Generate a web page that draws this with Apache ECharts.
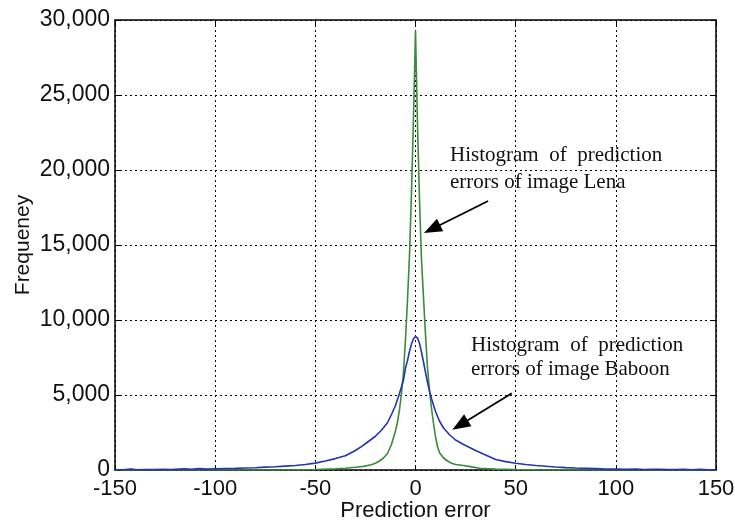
<!DOCTYPE html>
<html>
<head>
<meta charset="utf-8">
<script src="https://cdn.jsdelivr.net/npm/echarts@6/dist/echarts.min.js"></script>
<style>
  html, body { margin: 0; padding: 0; background: #fff; }
  #chart { width: 735px; height: 523px; }
</style>
</head>
<body>
<div id="chart"></div>
<script>
// prediction error histogram of Lena (green)
const lenaX = [-150, -120, -90, -75, -60, -50, -40, -35, -30, -26, -22, -20, -18, -16, -14,
  -12, -10, -9, -8, -7, -6, -5, -4, -3, -2, -1, 0, 1, 2, 3, 4, 5, 6, 7, 8,
  9, 10, 11, 12, 14, 16, 18, 20, 24, 28, 32, 40, 50, 60, 75, 90, 120, 150];
const lenaY = [0, 0, 2, 5, 10, 30, 80, 120, 180, 240, 350, 450, 600, 800, 1100,
  1700, 2600, 3200, 4000, 5100, 6500, 8700, 11300, 14300, 18500, 23500, 29300, 23000, 18000, 14000, 11500, 9000, 6800, 5300, 4100,
  3100, 2200, 1550, 1150, 800, 600, 450, 370, 300, 210, 120, 60, 25, 10, 3, 2, 0, 0];

// prediction error histogram of Baboon (blue)
const baboonX = [-150, -146, -142, -139, -135, -130, -126, -122, -118, -115, -112, -108, -104, -100, -95,
  -90, -85, -80, -75, -70, -65, -60, -55, -50, -45, -40, -35, -30, -27, -24,
  -20, -17, -14, -12, -10, -8, -6, -5, -4, -3, -2, -1, 0, 1, 2,
  3, 4, 5, 6, 7, 8, 10, 12, 14, 17, 20, 24, 27, 30, 35,
  40, 45, 50, 55, 60, 65, 70, 75, 80, 85, 90, 95, 100, 105, 110,
  114, 118, 122, 126, 130, 134, 138, 142, 146, 150];
const baboonY = [20, 15, 70, 20, 30, 25, 40, 35, 60, 80, 50, 90, 60, 80, 100,
  110, 130, 150, 190, 220, 260, 300, 370, 460, 600, 760, 950, 1300, 1560, 1850,
  2250, 2650, 3150, 3700, 4300, 5100, 6000, 6800, 7300, 7900, 8400, 8750, 8900, 8800, 8450,
  7850, 7200, 6500, 5850, 5250, 4750, 3900, 3250, 2800, 2350, 2000, 1700, 1500, 1300, 1000,
  700, 560, 450, 370, 300, 250, 200, 160, 130, 110, 90, 70, 60, 45, 60,
  30, 45, 55, 25, 30, 50, 20, 40, 15, 10];

// annotation arrows, in data units: [from, to]
const lenaArrow = [[36.25, 17930], [8.25, 16070]];
const baboonArrow = [[48.1, 5110], [22.25, 3000]];

const chart = echarts.init(document.getElementById('chart'));

const sans = 'Liberation Sans, Arial, sans-serif';
const noteFont = 'Liberation Serif, Times New Roman, serif';

function pairs(xs, ys) {
  return xs.map((x, i) => [x, ys[i]]);
}

function arrow(a) {
  return [{ coord: a[0] }, { coord: a[1] }];
}

const frameLine = { show: true, onZero: false, lineStyle: { color: '#000', width: 1.5 } };
const inTick = { show: true, inside: true, length: 5, lineStyle: { color: '#000', width: 1 } };
const dotGrid = { show: true, lineStyle: { color: '#000', width: 1, type: [2, 3] } };

const option = {
  animation: false,
  backgroundColor: '#fff',
  grid: { left: 115, right: 19, top: 20, bottom: 53, outerBoundsMode: 'none' },
  xAxis: [
    {
      type: 'value', min: -150, max: 150, interval: 50,
      name: 'Prediction error', nameLocation: 'middle', nameGap: 30, nameMoveOverlap: false,
      nameTextStyle: { fontFamily: sans, fontSize: 22, color: '#111' },
      axisLine: frameLine, axisTick: inTick,
      axisLabel: { margin: 8, fontFamily: sans, fontSize: 22, color: '#111' },
      splitLine: dotGrid
    },
    {
      type: 'value', position: 'top', min: -150, max: 150, interval: 50,
      axisLine: frameLine, axisTick: inTick,
      axisLabel: { show: false }, splitLine: { show: false }
    }
  ],
  yAxis: [
    {
      type: 'value', min: 0, max: 30000, interval: 5000,
      name: 'Frequeney', nameLocation: 'middle', nameGap: 81, nameMoveOverlap: false,
      nameTextStyle: { fontFamily: sans, fontSize: 21, color: '#111' },
      axisLine: frameLine, axisTick: inTick,
      axisLabel: {
        margin: 5, fontFamily: sans, fontSize: 23, color: '#111',
        formatter: v => v.toLocaleString('en-US')
      },
      splitLine: dotGrid
    },
    {
      type: 'value', position: 'right', min: 0, max: 30000, interval: 5000,
      axisLine: frameLine, axisTick: inTick,
      axisLabel: { show: false }, splitLine: { show: false }
    }
  ],
  series: [
    {
      name: 'Lena',
      type: 'line',
      data: pairs(lenaX, lenaY),
      showSymbol: false,
      lineStyle: { color: '#3a8c3a', width: 1.6 },
      markLine: {
        silent: true,
        symbol: ['none', 'triangle'],
        symbolSize: [14, 18],
        label: { show: false },
        lineStyle: { color: '#000', width: 1.8, type: 'solid' },
        data: [arrow(lenaArrow)]
      }
    },
    {
      name: 'Baboon',
      type: 'line',
      data: pairs(baboonX, baboonY),
      showSymbol: false,
      lineStyle: { color: '#2634b4', width: 1.6 },
      markLine: {
        silent: true,
        symbol: ['none', 'triangle'],
        symbolSize: [14, 18],
        label: { show: false },
        lineStyle: { color: '#000', width: 1.8, type: 'solid' },
        data: [arrow(baboonArrow)]
      }
    }
  ],
  graphic: [
    { type: 'text', left: 450, top: 145, style: { text: 'Histogram  of  prediction', font: '21px ' + noteFont, fill: '#111' } },
    { type: 'text', left: 450, top: 172, style: { text: 'errors of image Lena', font: '21px ' + noteFont, fill: '#111' } },
    { type: 'text', left: 471, top: 335, style: { text: 'Histogram  of  prediction', font: '21px ' + noteFont, fill: '#111' } },
    { type: 'text', left: 471, top: 359, style: { text: 'errors of image Baboon', font: '21px ' + noteFont, fill: '#111' } }
  ]
};

chart.setOption(option);
</script>
</body>
</html>
